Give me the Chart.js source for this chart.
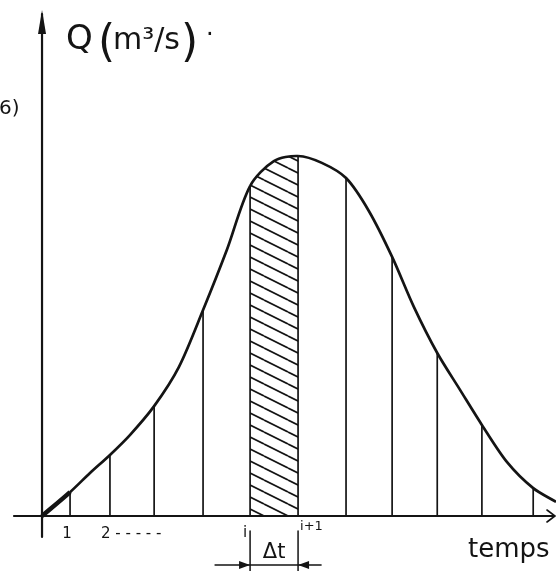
<!DOCTYPE html>
<html>
<head>
<meta charset="utf-8">
<script src="https://cdn.jsdelivr.net/npm/chart.js@4.4.0/dist/chart.umd.min.js"></script>
<style>
  html, body { margin: 0; padding: 0; background: #fff; }
</style>
</head>
<body>
<canvas id="hydrogramme" width="556" height="571"></canvas>
<script>
// hydrogramme : temps (en pas de Δt) et débit Q
const temps  = [0, 0.59, 1.01, 1.43, 1.85, 2.36, 2.88, 3.39, 3.89, 4.38, 4.88, 5.39, 5.89, 6.40, 6.88, 7.37, 7.83, 8.32, 8.80, 9.26, 9.79, 10.34, 10.82];
const debits = [0, 6.6, 11.9, 16.9, 22.4, 30.4, 41.2, 57.0, 73.6, 91.3, 98.2, 99.6, 97.7, 93.5, 84.4, 71.7, 57.8, 45.1, 34.9, 25.2, 14.9, 7.7, 3.9];

// verticales tracées sous la courbe
const verticales = [0.59, 1.43, 2.36, 3.39, 4.38, 5.39, 6.40, 7.37, 8.32, 9.26, 10.34];
// intervalle hachuré [i, i+1]
const intervalle = [4.38, 5.39];
// graduations de l'axe des temps
const graduations = [0.59, 1.43, 4.38, 5.39];
const etiquettes  = ['1', '2 - - - - -', 'i', 'i+1'];

const encre = '#141414';
const police = '"DejaVu Sans", sans-serif';

const points = temps.map((t, k) => ({ x: t, y: debits[k] }));
const debitA = t => debits[temps.indexOf(t)];
const dansIntervalle = c => temps[c.p0DataIndex] >= intervalle[0] && temps[c.p1DataIndex] <= intervalle[1];

// motif de hachures "\\\"
function hachures() {
  const c = document.createElement('canvas');
  c.width = 24; c.height = 12;
  const g = c.getContext('2d');
  g.strokeStyle = encre;
  g.lineWidth = 1.7;
  for (let k = -1; k <= 1; k++) {
    g.beginPath();
    g.moveTo(0, k * 12);
    g.lineTo(24, k * 12 + 12);
    g.stroke();
  }
  return g.createPattern(c, 'repeat');
}
const motif = hachures();

function fleche(ctx, x, y, dx, dy, long, larg) {
  // pointe pleine en (x, y) orientée selon (dx, dy)
  ctx.beginPath();
  ctx.moveTo(x, y);
  ctx.lineTo(x - dx * long - dy * larg, y - dy * long + dx * larg);
  ctx.lineTo(x - dx * long + dy * larg, y - dy * long - dx * larg);
  ctx.closePath();
  ctx.fill();
}

const croquis = {
  id: 'croquis',
  afterDatasetsDraw(chart) {
    const { ctx, scales: { x, y } } = chart;
    const x0 = x.getPixelForValue(0);
    const y0 = y.getPixelForValue(0);
    ctx.save();
    ctx.strokeStyle = encre;
    ctx.fillStyle = encre;
    ctx.lineCap = 'round';

    // verticales
    ctx.lineWidth = 1.7;
    verticales.forEach(t => {
      const px = x.getPixelForValue(t);
      ctx.beginPath();
      ctx.moveTo(px, y0);
      ctx.lineTo(px, y.getPixelForValue(debitA(t)));
      ctx.stroke();
    });

    // axes
    ctx.lineWidth = 2.2;
    ctx.beginPath();
    ctx.moveTo(x0, y0 + 21);
    ctx.lineTo(x0, y.top + 4);
    ctx.moveTo(x.left, y0);
    ctx.lineTo(x.right - 2, y0);
    ctx.stroke();
    fleche(ctx, x0, y.top, 0, -1, 24, 4);
    ctx.lineWidth = 1.6;
    ctx.beginPath();
    ctx.moveTo(x.right - 9, y0 - 6);
    ctx.lineTo(x.right - 1, y0);
    ctx.lineTo(x.right - 9, y0 + 6);
    ctx.stroke();

    // graduations
    ctx.textBaseline = 'alphabetic';
    const decal = [[-3, 'center', 538, 15], [-9, 'left', 538, 15], [-5, 'center', 537, 15], [2, 'left', 530, 13]];
    graduations.forEach((t, k) => {
      const [dx, align, by, taille] = decal[k];
      ctx.font = taille + 'px ' + police;
      ctx.textAlign = align;
      ctx.fillText(etiquettes[k], x.getPixelForValue(t) + dx, by);
    });

    // cote Δt
    const xa = x.getPixelForValue(intervalle[0]);
    const xb = x.getPixelForValue(intervalle[1]);
    ctx.lineWidth = 1.5;
    ctx.beginPath();
    ctx.moveTo(xa, 531); ctx.lineTo(xa, 571);
    ctx.moveTo(xb, 531); ctx.lineTo(xb, 571);
    ctx.moveTo(xa - 35, 565); ctx.lineTo(xb + 23, 565);
    ctx.stroke();
    fleche(ctx, xa, 565, 1, 0, 11, 4);
    fleche(ctx, xb, 565, -1, 0, 11, 4);
    ctx.font = '21px ' + police;
    ctx.textAlign = 'center';
    ctx.fillText('Δt', (xa + xb) / 2, 558);

    // titres
    ctx.textAlign = 'left';
    ctx.font = '26px ' + police;
    ctx.fillText('temps', 468, 557);
    ctx.font = '34px ' + police;
    ctx.fillText('Q', 66, 49);
    ctx.font = '44px ' + police;
    ctx.fillText('(', 98, 56);
    ctx.fillText(')', 181, 56);
    ctx.font = '30px ' + police;
    ctx.fillText('m³/s', 113, 49);
    ctx.font = '24px ' + police;
    ctx.fillText('·', 206, 42);
    ctx.font = '20px ' + police;
    ctx.fillText('6)', -1, 114);
    ctx.restore();
  }
};

new Chart(document.getElementById('hydrogramme'), {
  type: 'line',
  data: {
    datasets: [{
      data: points,
      borderColor: encre,
      borderWidth: 2.7,
      backgroundColor: 'transparent',
      fill: 'origin',
      tension: 0.3,
      pointRadius: 0,
      clip: false,
      segment: {
        backgroundColor: c => dansIntervalle(c) ? motif : 'transparent',
        borderWidth: c => c.p0DataIndex === 0 ? 4.5 : undefined
      }
    }]
  },
  options: {
    responsive: false,
    animation: false,
    devicePixelRatio: 1,
    layout: { padding: { left: 14, right: 0, top: 10, bottom: 55 } },
    scales: {
      x: { type: 'linear', min: -0.59, max: 10.82, display: false },
      y: { min: 0, max: 140, display: false }
    },
    plugins: { legend: { display: false }, tooltip: { enabled: false } }
  },
  plugins: [croquis]
});
</script>
</body>
</html>
